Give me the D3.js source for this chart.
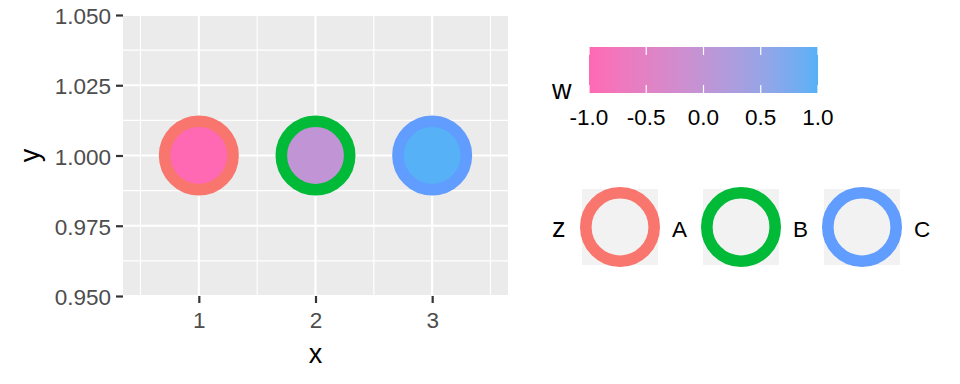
<!DOCTYPE html>
<html>
<head>
<meta charset="utf-8">
<script src="https://cdn.jsdelivr.net/npm/d3@7"></script>
<style>
  body { margin: 0; background: #fff; }
  svg { display: block; font-family: "Liberation Sans", Arial, sans-serif; }
</style>
</head>
<body>
<svg width="960" height="384"></svg>
<script>
var xVals = [1, 2, 3];
var yVals = [1, 1, 1];
var wVals = [-1, 0, 1];
var zVals = ["A", "B", "C"];

var xTicks = [1, 2, 3];
var xMinor = [0.5, 1.5, 2.5, 3.5];
var yTicks = [0.95, 0.975, 1.0, 1.025, 1.05];
var yMinor = [0.9625, 0.9875, 1.0125, 1.0375];
var wTicks = [-1, -0.5, 0, 0.5, 1];

var zColors = ["#F8766D", "#00BA38", "#619CFF"];

var data = xVals.map(function(d, i) {
	return {x: d, y: yVals[i], w: wVals[i], z: zVals[i]};
});

var svg = d3.select("svg");
var panel = {left: 123, right: 508, top: 15, bottom: 296};
var tickFont = 22.5, titleFont = 27;

var x = d3.scaleLinear().domain([0.35, 3.65]).range([panel.left, panel.right]);
var y = d3.scaleLinear().domain([0.95, 1.05]).range([panel.bottom, panel.top]);
var fill = d3.scaleLinear().domain([-1, 1]).range(["hotpink", "#56B1F7"]).interpolate(d3.interpolateLab);
var col = d3.scaleOrdinal().domain(zVals).range(zColors);

// ggplot writes a plain hyphen for negatives
var fmtW = function(d) { return d3.format(".1f")(d).replace("\u2212", "-"); };

// panel background + grid
svg.append("rect")
	.attr("x", panel.left).attr("y", panel.top)
	.attr("width", panel.right - panel.left).attr("height", panel.bottom - panel.top)
	.attr("fill", "#EBEBEB");

var grid = svg.append("g").attr("stroke", "#fff");
grid.selectAll(".xminor").data(xMinor).enter().append("line")
	.attr("x1", x).attr("x2", x).attr("y1", panel.top).attr("y2", panel.bottom)
	.attr("stroke-width", 1.1);
grid.selectAll(".yminor").data(yMinor).enter().append("line")
	.attr("y1", y).attr("y2", y).attr("x1", panel.left).attr("x2", panel.right)
	.attr("stroke-width", 1.1);
grid.selectAll(".xmajor").data(xTicks).enter().append("line")
	.attr("x1", x).attr("x2", x).attr("y1", panel.top).attr("y2", panel.bottom)
	.attr("stroke-width", 2.2);
grid.selectAll(".ymajor").data(yTicks).enter().append("line")
	.attr("y1", y).attr("y2", y).attr("x1", panel.left).attr("x2", panel.right)
	.attr("stroke-width", 2.2);

// points
svg.append("g").selectAll("circle")
	.data(data).enter().append("circle")
	.attr("cx", function(d) { return x(d.x); })
	.attr("cy", function(d) { return y(d.y); })
	.attr("r", 34.2)
	.attr("fill", function(d) { return fill(d.w); })
	.attr("stroke", function(d) { return col(d.z); })
	.attr("stroke-width", 11.6);

// axes
var yAxis = svg.append("g")
	.attr("transform", "translate(" + panel.left + ",0)")
	.call(d3.axisLeft(y).tickValues(yTicks).tickFormat(d3.format(".3f")).tickSize(7).tickPadding(5));
var xAxis = svg.append("g")
	.attr("transform", "translate(0," + panel.bottom + ")")
	.call(d3.axisBottom(x).tickValues(xTicks).tickFormat(d3.format("d")).tickSize(7));

[xAxis, yAxis].forEach(function(a) {
	a.select(".domain").remove();
	a.selectAll(".tick line").attr("stroke", "#333").attr("stroke-width", 2.2);
	a.selectAll(".tick text").attr("fill", "#4D4D4D").attr("font-size", tickFont).attr("font-family", null);
});
xAxis.selectAll(".tick text").attr("y", 32).attr("dy", null);
yAxis.selectAll(".tick text").attr("dy", "0.38em");

svg.append("text")
	.attr("x", (panel.left + panel.right) / 2).attr("y", 363)
	.attr("text-anchor", "middle").attr("font-size", titleFont).text("x");
svg.append("text")
	.attr("transform", "translate(39," + (panel.top + panel.bottom) / 2 + ") rotate(-90)")
	.attr("text-anchor", "middle").attr("font-size", titleFont).text("y");

// colourbar legend for w
var bar = {left: 589, right: 818, top: 47, bottom: 93};
var wx = d3.scaleLinear().domain([-1, 1]).range([bar.left, bar.right]);

var grad = svg.append("defs").append("linearGradient").attr("id", "wgrad");
grad.selectAll("stop")
	.data(d3.range(0, 1.0001, 0.05)).enter().append("stop")
	.attr("offset", function(d) { return d * 100 + "%"; })
	.attr("stop-color", function(d) { return fill(-1 + 2 * d); });

svg.append("rect")
	.attr("x", bar.left).attr("y", bar.top)
	.attr("width", bar.right - bar.left).attr("height", bar.bottom - bar.top)
	.attr("fill", "url(#wgrad)");

var barTicks = svg.append("g").attr("stroke", "#fff").attr("stroke-width", 1.2);
barTicks.selectAll(".t1").data(wTicks).enter().append("line")
	.attr("x1", wx).attr("x2", wx).attr("y1", bar.top).attr("y2", bar.top + 8);
barTicks.selectAll(".t2").data(wTicks).enter().append("line")
	.attr("x1", wx).attr("x2", wx).attr("y1", bar.bottom - 8).attr("y2", bar.bottom);

svg.append("g").selectAll("text")
	.data(wTicks).enter().append("text")
	.attr("x", wx).attr("y", 125)
	.attr("text-anchor", "middle").attr("font-size", tickFont)
	.text(fmtW);

svg.append("text").attr("x", 552).attr("y", 99).attr("font-size", titleFont).text("w");

// key legend for z
var keyX = [582, 703, 824];
var keyTop = 189, keySize = 76;

svg.append("text").attr("x", 552).attr("y", 237).attr("font-size", titleFont).text("z");

var keys = svg.append("g").selectAll("g")
	.data(zVals).enter().append("g")
	.attr("transform", function(d, i) { return "translate(" + keyX[i] + "," + keyTop + ")"; });

keys.append("rect")
	.attr("width", keySize).attr("height", keySize)
	.attr("fill", "#F2F2F2");
keys.append("circle")
	.attr("cx", keySize / 2).attr("cy", keySize / 2)
	.attr("r", 34.2)
	.attr("fill", "none")
	.attr("stroke", function(d) { return col(d); })
	.attr("stroke-width", 11.6);
keys.append("text")
	.attr("x", keySize + 14).attr("y", keySize / 2 + 10)
	.attr("font-size", tickFont)
	.text(function(d) { return d; });
</script>
</body>
</html>
